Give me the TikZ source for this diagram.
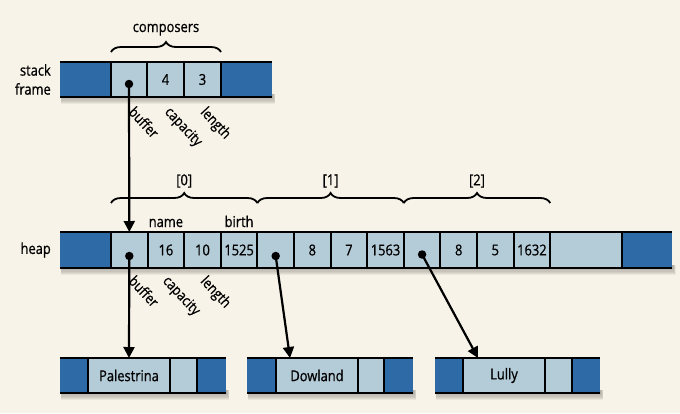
\documentclass[tikz,border=0pt]{standalone}
\usepackage{fontspec}
\setmainfont{Open Sans}[FakeStretch=0.86,FakeBold=0.8]
\usetikzlibrary{decorations.pathreplacing,arrows.meta,calc}
\definecolor{bgc}{HTML}{F7F3E8}
\definecolor{dk}{HTML}{2E6AA6}
\definecolor{lt}{HTML}{B4CBD8}
\pgfdeclarelayer{back}
\pgfsetlayers{back,main}
\newcommand\rowshadow[2]{%
  \foreach \k in {1,...,6}{%
    \fill[black,opacity=0.05] ($(#1.south west)+(1,-3)$) rectangle ($(#2.south east)+({0.4*\k+1},{1.2*\k})$);
  }%
}
\begin{document}
\begin{tikzpicture}[x=1pt,y=-1pt,
  font=\fontsize{15}{19}\selectfont,
  dcell/.style={rectangle,fill=dk,inner sep=0pt,outer sep=0pt,minimum height=35pt},
  lcell/.style={rectangle,fill=lt,inner sep=0pt,outer sep=0pt,minimum height=35pt},
  rowline/.style={line width=2.6pt,black},
  sepline/.style={line width=2pt,black},
  dotn/.style={circle,fill=black,inner sep=0pt,minimum size=8.5pt},
  ptr/.style={line width=2.2pt,-{Triangle[width=11pt,length=11pt]}},
  brc/.style={line width=1.8pt,decorate,decoration={brace,amplitude=10pt}},
  rlab/.style={rotate=-47,anchor=north west,inner sep=0pt,font=\fontsize{14.5}{17}\selectfont},
  lab/.style={inner sep=0pt}
]
\useasboundingbox (0,0) rectangle (680,413);

% ---------- stack frame ----------
\node[dcell,minimum width=51pt,anchor=west] (s0) at (60,79.5) {};
\node[lcell,minimum width=36pt,anchor=west] (s1) at (s0.east) {};
\node[lcell,minimum width=37pt,anchor=west] (s2) at (s1.east) {4};
\node[lcell,minimum width=37pt,anchor=west] (s3) at (s2.east) {3};
\node[dcell,minimum width=51pt,anchor=west] (s4) at (s3.east) {};
\draw[rowline] (s0.north west) -- (s4.north east);
\draw[rowline] (s0.south west) -- (s4.south east);
\foreach \n in {s0,s1,s2,s3} \draw[sepline] (\n.north east) -- (\n.south east);

\node[lab,anchor=east,align=right] (stacklab) at (51,79.5) {stack\\frame};
\node[lab,anchor=base] (composers) at (166,32) {composers};
\draw[brc] ($(s1.north west)+(0,-10)$) -- ($(s3.north east)+(0,-10)$);
\node[rlab] (sbuf) at (136,105) {buffer};
\node[rlab] (scap) at (172,105) {capacity};
\node[rlab] (slen) at (208,105) {length};

% ---------- heap ----------
\node[dcell,minimum width=51pt,minimum height=36pt,anchor=west] (h0) at (60,250) {};
\node[lcell,minimum width=36.6pt,minimum height=36pt,anchor=west] (h1) at (h0.east) {};
\node[lcell,minimum width=36.6pt,minimum height=36pt,anchor=west] (h2) at (h1.east) {16};
\node[lcell,minimum width=36.6pt,minimum height=36pt,anchor=west] (h3) at (h2.east) {10};
\node[lcell,minimum width=36.6pt,minimum height=36pt,anchor=west] (h4) at (h3.east) {1525};
\node[lcell,minimum width=36.6pt,minimum height=36pt,anchor=west] (h5) at (h4.east) {};
\node[lcell,minimum width=36.6pt,minimum height=36pt,anchor=west] (h6) at (h5.east) {8};
\node[lcell,minimum width=36.6pt,minimum height=36pt,anchor=west] (h7) at (h6.east) {7};
\node[lcell,minimum width=36.6pt,minimum height=36pt,anchor=west] (h8) at (h7.east) {1563};
\node[lcell,minimum width=36.6pt,minimum height=36pt,anchor=west] (h9) at (h8.east) {};
\node[lcell,minimum width=36.6pt,minimum height=36pt,anchor=west] (h10) at (h9.east) {8};
\node[lcell,minimum width=36.6pt,minimum height=36pt,anchor=west] (h11) at (h10.east) {5};
\node[lcell,minimum width=36.6pt,minimum height=36pt,anchor=west] (h12) at (h11.east) {1632};
\node[lcell,minimum width=72pt,minimum height=36pt,anchor=west] (h13) at (h12.east) {};
\node[dcell,minimum width=50pt,minimum height=36pt,anchor=west] (h14) at (h13.east) {};
\draw[rowline] (h0.north west) -- (h14.north east);
\draw[rowline] (h0.south west) -- (h14.south east);
\foreach \n in {h0,h1,h2,h3,h4,h5,h6,h7,h8,h9,h10,h11,h12,h13} \draw[sepline] (\n.north east) -- (\n.south east);

\node[lab,anchor=east] (heaplab) at (51,250) {heap};
\node[lab,anchor=base] (namelab) at ($(h2.north)+(0,-5)$) {name};
\node[lab,anchor=base] (birthlab) at ($(h4.north)+(0,-5)$) {birth};
\draw[brc] ($(h1.north west)+(0,-29)$) -- ($(h4.north east)+(0,-29)$);
\draw[brc] ($(h5.north west)+(0,-29)$) -- ($(h8.north east)+(0,-29)$);
\draw[brc] ($(h9.north west)+(0,-29)$) -- ($(h12.north east)+(0,-29)$);
\node[lab] (i0) at ($(h1.north west)!0.5!(h4.north east)+(0,-51)$) {[0]};
\node[lab] (i1) at ($(h5.north west)!0.5!(h8.north east)+(0,-51)$) {[1]};
\node[lab] (i2) at ($(h9.north west)!0.5!(h12.north east)+(0,-51)$) {[2]};
\node[rlab] (hbuf) at (136,274) {buffer};
\node[rlab] (hcap) at (170,274) {capacity};
\node[rlab] (hlen) at (208,274) {length};

% ---------- strings ----------
\node[dcell,minimum width=28pt,anchor=west] (p0) at (60,375.5) {};
\node[lcell,minimum width=82pt,anchor=west] (p1) at (p0.east) {Palestrina};
\node[lcell,minimum width=27pt,anchor=west] (p2) at (p1.east) {};
\node[dcell,minimum width=29pt,anchor=west] (p3) at (p2.east) {};
\node[dcell,minimum width=29pt,anchor=west] (d0) at (247,375.5) {};
\node[lcell,minimum width=82pt,anchor=west] (d1) at (d0.east) {Dowland};
\node[lcell,minimum width=26pt,anchor=west] (d2) at (d1.east) {};
\node[dcell,minimum width=29pt,anchor=west] (d3) at (d2.east) {};
\node[dcell,minimum width=28pt,anchor=west] (l0) at (435,375.5) {};
\node[lcell,minimum width=82pt,anchor=west] (l1) at (l0.east) {Lully};
\node[lcell,minimum width=27pt,anchor=west] (l2) at (l1.east) {};
\node[dcell,minimum width=28pt,anchor=west] (l3) at (l2.east) {};
\foreach \a/\b in {p0/p3,d0/d3,l0/l3}{
  \draw[rowline] (\a.north west) -- (\b.north east);
  \draw[rowline] (\a.south west) -- (\b.south east);
}
\foreach \n in {p0,p1,p2,d0,d1,d2,l0,l1,l2} \draw[sepline] (\n.north east) -- (\n.south east);

% ---------- pointers ----------
\node[dotn] (sdot) at ($(s1.center)+(0,4.5)$) {};
\node[dotn] (hdot0) at ($(h1.center)+(0,6)$) {};
\node[dotn] (hdot1) at ($(h5.center)+(0,6)$) {};
\node[dotn] (hdot2) at ($(h9.center)+(0,4.5)$) {};
\draw[ptr] (sdot.center) -- (h1.north);
\draw[ptr] (hdot0.center) -- (p1.north);
\draw[ptr] (hdot1.center) -- ($(d1.north west)+(14,0)$);
\draw[ptr] (hdot2.center) -- ($(l1.north west)+(15,0)$);

% ---------- background and shadows ----------
\begin{pgfonlayer}{back}
\fill[bgc] (0,0) rectangle (680,413);
\rowshadow{s0}{s4}
\rowshadow{h0}{h14}
\rowshadow{p0}{p3}
\rowshadow{d0}{d3}
\rowshadow{l0}{l3}
\end{pgfonlayer}
\end{tikzpicture}
\end{document}
